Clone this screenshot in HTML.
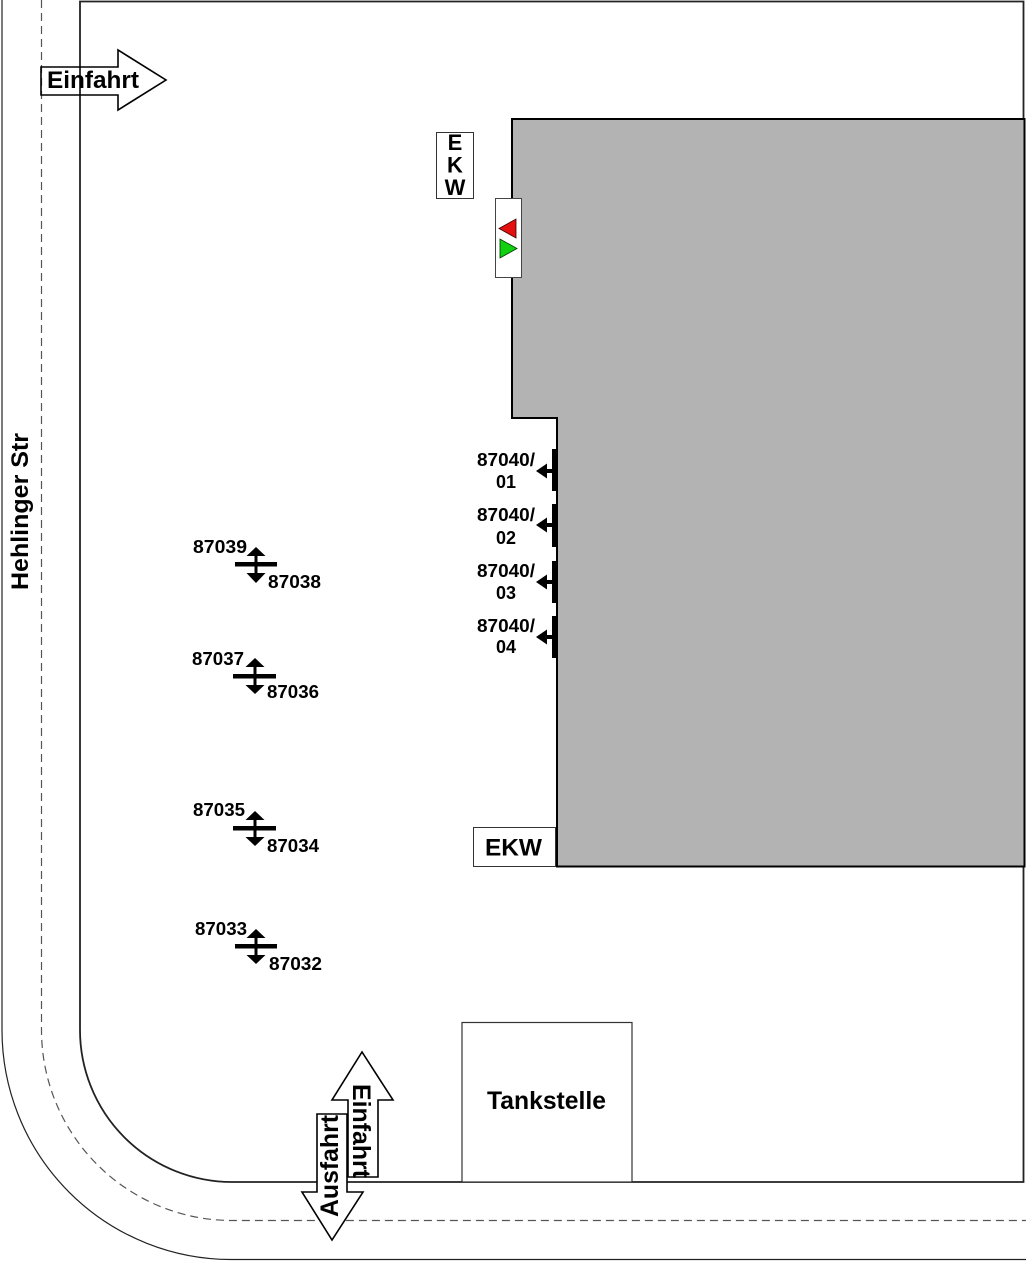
<!DOCTYPE html>
<html>
<head>
<meta charset="utf-8">
<style>
html,body{margin:0;padding:0;background:#fff;}
svg{display:block;}
text{font-family:"Liberation Sans",Arial,sans-serif;font-weight:bold;fill:#000;}
</style>
</head>
<body>
<svg width="1026" height="1261" viewBox="0 0 1026 1261" xmlns="http://www.w3.org/2000/svg">
  <!-- road outer line -->
  <path d="M2,0 V1030 A229.5,229.5 0 0 0 231.5,1259.5 H1026" fill="none" stroke="#222" stroke-width="1.2"/>
  <!-- dashed center line -->
  <path d="M41.5,0 V1030 A190.5,190.5 0 0 0 232,1220.5 H1026" fill="none" stroke="#555" stroke-width="1.2" stroke-dasharray="8,5"/>
  <!-- property boundary -->
  <path d="M80,1.5 H1023.5 V1182 H232 A152,152 0 0 1 80,1030 Z" fill="none" stroke="#222" stroke-width="1.8"/>

  <!-- building -->
  <polygon points="512,119 1024.5,119 1024.5,866.5 557,866.5 557,418 512,418" fill="#b3b3b3" stroke="#000" stroke-width="2"/>

  <!-- top Einfahrt arrow -->
  <polygon points="41,67 118,67 118,50 166,80 118,110 118,95 41,95" fill="none" stroke="#000" stroke-width="1.6"/>
  <text x="47" y="88" font-size="24" textLength="92" lengthAdjust="spacingAndGlyphs">Einfahrt</text>

  <!-- EKW vertical box -->
  <rect x="436.5" y="132.5" width="37" height="66" fill="#fff" stroke="#333" stroke-width="1"/>
  <text x="455" y="150" font-size="22" text-anchor="middle">E</text>
  <text x="455" y="172.5" font-size="22" text-anchor="middle">K</text>
  <text x="455" y="195" font-size="22" text-anchor="middle">W</text>

  <!-- signal box -->
  <rect x="495.5" y="198.5" width="26" height="79" fill="#fff" stroke="#444" stroke-width="1"/>
  <polygon points="499,228.5 516,219 516,238" fill="#e41010" stroke="#300" stroke-width="0.8"/>
  <polygon points="500,239 500,258 517,248.5" fill="#10d010" stroke="#030" stroke-width="0.8"/>

  <!-- 87040 markers -->
  <g>
    <rect x="552" y="449" width="4" height="42" fill="#000"/>
    <rect x="543" y="469" width="10" height="4" fill="#000"/>
    <polygon points="536,471 547,463.5 547,478.5" fill="#000"/>
    <text x="477" y="466" font-size="18" textLength="58" lengthAdjust="spacingAndGlyphs">87040/</text>
    <text x="496" y="488" font-size="18" textLength="20" lengthAdjust="spacingAndGlyphs">01</text>
  </g>
  <g>
    <rect x="552" y="504" width="4" height="43" fill="#000"/>
    <rect x="543" y="523" width="10" height="4" fill="#000"/>
    <polygon points="536,525 547,517.5 547,532.5" fill="#000"/>
    <text x="477" y="521" font-size="18" textLength="58" lengthAdjust="spacingAndGlyphs">87040/</text>
    <text x="496" y="544" font-size="18" textLength="20" lengthAdjust="spacingAndGlyphs">02</text>
  </g>
  <g>
    <rect x="552" y="561" width="4" height="42" fill="#000"/>
    <rect x="543" y="580" width="10" height="4" fill="#000"/>
    <polygon points="536,582 547,574.5 547,589.5" fill="#000"/>
    <text x="477" y="577" font-size="18" textLength="58" lengthAdjust="spacingAndGlyphs">87040/</text>
    <text x="496" y="599" font-size="18" textLength="20" lengthAdjust="spacingAndGlyphs">03</text>
  </g>
  <g>
    <rect x="552" y="616" width="4" height="42" fill="#000"/>
    <rect x="543" y="635" width="10" height="4" fill="#000"/>
    <polygon points="536,637 547,629.5 547,644.5" fill="#000"/>
    <text x="477" y="632" font-size="18" textLength="58" lengthAdjust="spacingAndGlyphs">87040/</text>
    <text x="496" y="653" font-size="18" textLength="20" lengthAdjust="spacingAndGlyphs">04</text>
  </g>

  <!-- pair markers -->
  <g>
    <rect x="235" y="562" width="42" height="4.5" fill="#000"/>
    <rect x="254.5" y="555" width="3" height="19" fill="#000"/>
    <polygon points="256,547 246.5,556 265.5,556" fill="#000"/>
    <polygon points="256,583 246.5,573 265.5,573" fill="#000"/>
    <text x="193" y="553" font-size="18" textLength="54" lengthAdjust="spacingAndGlyphs">87039</text>
    <text x="268" y="588" font-size="18" textLength="53" lengthAdjust="spacingAndGlyphs">87038</text>
  </g>
  <g>
    <rect x="233" y="674" width="43" height="4.5" fill="#000"/>
    <rect x="253.5" y="667" width="3" height="19" fill="#000"/>
    <polygon points="255,658 245.5,667 264.5,667" fill="#000"/>
    <polygon points="255,694 245.5,685 264.5,685" fill="#000"/>
    <text x="192" y="665" font-size="18" textLength="52" lengthAdjust="spacingAndGlyphs">87037</text>
    <text x="267" y="698" font-size="18" textLength="52" lengthAdjust="spacingAndGlyphs">87036</text>
  </g>
  <g>
    <rect x="233" y="826" width="43" height="4.5" fill="#000"/>
    <rect x="253.5" y="819" width="3" height="19" fill="#000"/>
    <polygon points="255,811 245.5,820 264.5,820" fill="#000"/>
    <polygon points="255,846 245.5,837 264.5,837" fill="#000"/>
    <text x="193" y="816" font-size="18" textLength="52" lengthAdjust="spacingAndGlyphs">87035</text>
    <text x="267" y="852" font-size="18" textLength="52" lengthAdjust="spacingAndGlyphs">87034</text>
  </g>
  <g>
    <rect x="235" y="944" width="42" height="4.5" fill="#000"/>
    <rect x="254.5" y="937" width="3" height="19" fill="#000"/>
    <polygon points="256,929 246.5,938 265.5,938" fill="#000"/>
    <polygon points="256,964 246.5,955 265.5,955" fill="#000"/>
    <text x="195" y="935" font-size="18" textLength="52" lengthAdjust="spacingAndGlyphs">87033</text>
    <text x="269" y="970" font-size="18" textLength="53" lengthAdjust="spacingAndGlyphs">87032</text>
  </g>

  <!-- EKW bottom box -->
  <rect x="473.5" y="827.5" width="82" height="39" fill="#fff" stroke="#333" stroke-width="1"/>
  <text x="485" y="855.5" font-size="24" textLength="57" lengthAdjust="spacingAndGlyphs">EKW</text>

  <!-- Tankstelle -->
  <rect x="462" y="1022.5" width="170" height="159.5" fill="#fff" stroke="#333" stroke-width="1.2"/>
  <text x="487" y="1109" font-size="25" textLength="119" lengthAdjust="spacingAndGlyphs">Tankstelle</text>

  <!-- bottom Einfahrt (up) arrow -->
  <polygon points="348,1177 348,1100 332,1100 362,1052 393,1100 378,1100 378,1177" fill="#fff" stroke="#000" stroke-width="1.6"/>
  <text transform="translate(353,1084) rotate(90)" x="0" y="0" font-size="25" textLength="94" lengthAdjust="spacingAndGlyphs">Einfahrt</text>

  <!-- bottom Ausfahrt (down) arrow -->
  <polygon points="317,1114 347,1114 347,1192 363,1192 332,1240 302,1192 317,1192" fill="#fff" stroke="#000" stroke-width="1.6"/>
  <text transform="translate(338,1217) rotate(-90)" x="0" y="0" font-size="25" textLength="102" lengthAdjust="spacingAndGlyphs">Ausfahrt</text>

  <!-- Hehlinger Str -->
  <text transform="translate(28,590) rotate(-90)" x="0" y="0" font-size="24" textLength="157" lengthAdjust="spacingAndGlyphs">Hehlinger Str</text>
</svg>
</body>
</html>
